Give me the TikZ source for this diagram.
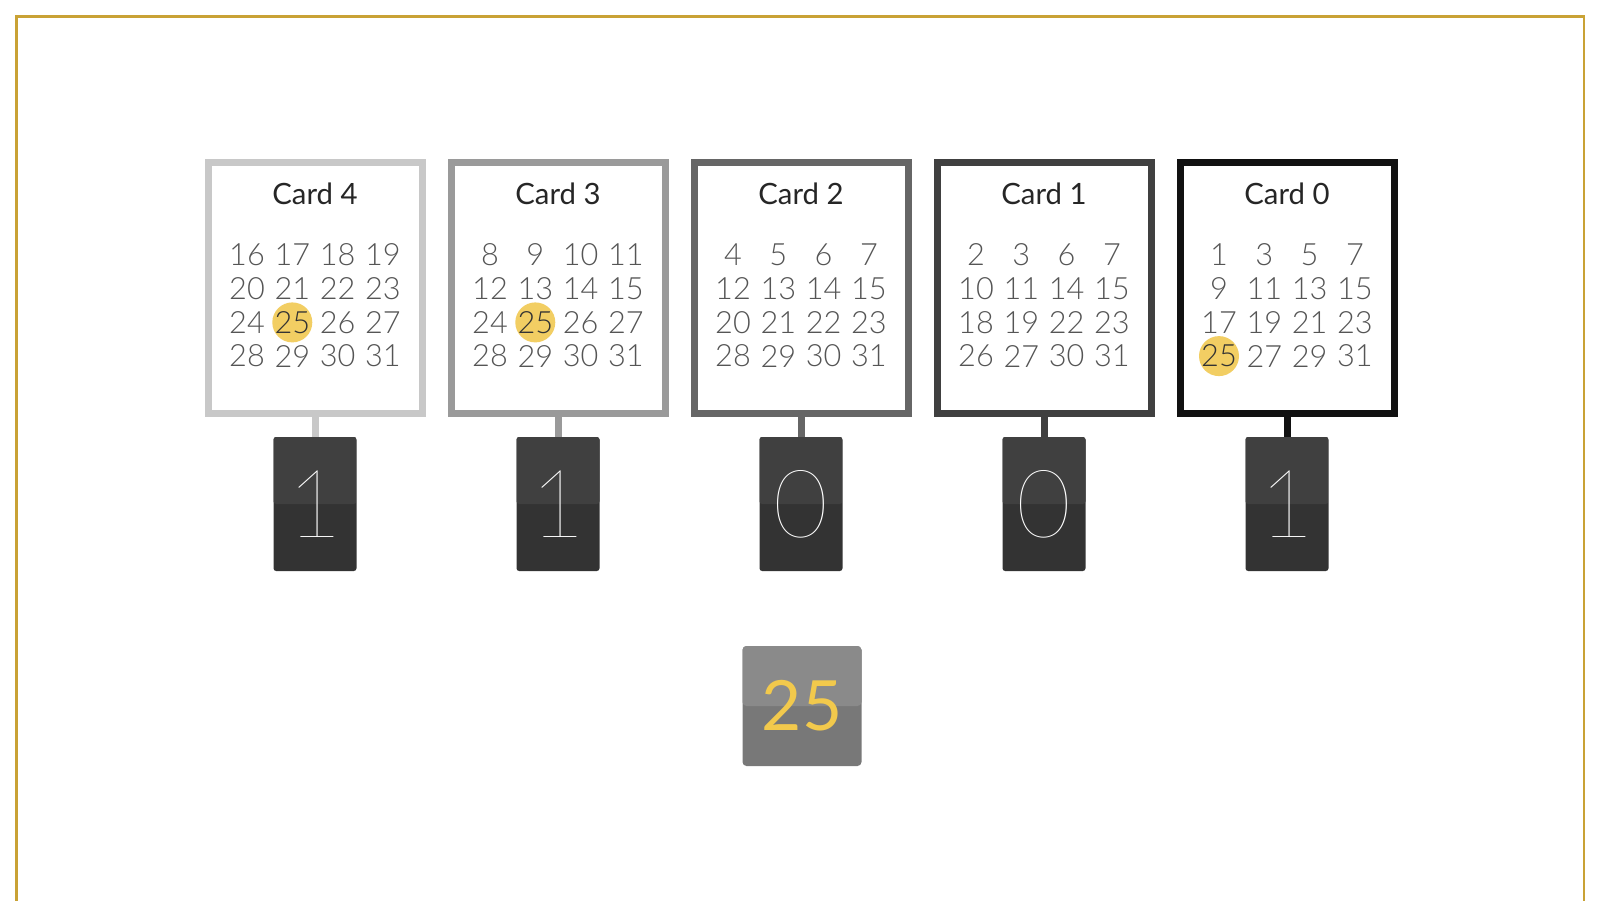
\documentclass[tikz,border=0pt]{standalone}
\usepackage{fontspec}
\setmainfont{Lato}
\IfFontExistsTF{Lato Light}{\newfontfamily\lightfont{Lato Light}}{\newfontfamily\lightfont{Lato}}
\IfFontExistsTF{Lato Thin}{\newfontfamily\thinfont{Lato Thin}}{%
  \IfFontExistsTF{Lato Hairline}{\newfontfamily\thinfont[FakeBold=1.2]{Lato Hairline}}{\let\thinfont\lightfont}}
\definecolor{cfour}{HTML}{C8C8C8}
\definecolor{cthree}{HTML}{9A9A9A}
\definecolor{ctwo}{HTML}{666666}
\definecolor{cone}{HTML}{404040}
\definecolor{czero}{HTML}{111111}
\definecolor{gold}{HTML}{C9A235}
\definecolor{hlyellow}{HTML}{F2CE63}
\definecolor{numgray}{HTML}{555555}
\definecolor{tiletop}{HTML}{404040}
\definecolor{tilebot}{HTML}{333333}
\definecolor{restop}{HTML}{8A8A8A}
\definecolor{resbot}{HTML}{787878}
\definecolor{resyellow}{HTML}{F2C94C}
\pgfdeclarelayer{background}
\pgfsetlayers{background,main}
\tikzset{
  cardbox/.style={draw, line width=5.25pt, minimum width=160.5pt, minimum height=188.25pt, inner sep=0pt},
  cardtitle/.style={inner sep=0pt, text=black!85, font=\fontsize{22}{22}\selectfont},
  num/.style={inner sep=0pt, text=numgray, font=\lightfont\fontsize{23}{23}\selectfont},
  stem/.style={line width=5.25pt},
  tile/.style={inner sep=0pt, minimum width=62.25pt, minimum height=100.5pt, rounded corners=2pt,
    fill=tilebot, text=white, font=\thinfont\fontsize{71}{71}\selectfont,
    path picture={\fill[tiletop] (path picture bounding box.north west) rectangle (path picture bounding box.east);}},
  restile/.style={inner sep=0pt, minimum width=89.25pt, minimum height=90pt, rounded corners=3pt,
    fill=resbot, text=resyellow, font=\fontsize{52}{52}\selectfont,
    path picture={\fill[restop] (path picture bounding box.north west) rectangle (path picture bounding box.east);}},
  hl/.style={fill=hlyellow},
  frame/.style={draw=gold, line width=1.8pt}
}
\newcommand\cardrow[4]{% id, cx, row, numbers
  \foreach \v [count=\c] in {#4} {
    \node[num] (n#1-#3-\c) at ({#2-68+(\c-1)*45.3}, {255+(#3-1)*33.7}) {\v};
  }
}
\newcommand\drawcard[8]{% id, cx, colour, bit, rows
  \node[cardbox, draw=#3] (c#1) at (#2,288) {};
  \node[cardtitle] (h#1) at (#2,194) {Card #1};
  \cardrow{#1}{#2}{1}{#5}
  \cardrow{#1}{#2}{2}{#6}
  \cardrow{#1}{#2}{3}{#7}
  \cardrow{#1}{#2}{4}{#8}
  \node[tile] (t#1) at (#2,504) {#4};
  \draw[stem, draw=#3] (c#1.south) -- (t#1.north);
}
\begin{document}
\begin{tikzpicture}[x=0.75pt, y=-0.75pt]
\useasboundingbox (0,0) rectangle (1600,900);
\draw[frame] (16.5,905) -- (16.5,16.5) -- (1584,16.5) -- (1584,905);

\drawcard{4}{315}{cfour}{1}{16,17,18,19}{20,21,22,23}{24,{\color{black!80}25},26,27}{28,29,30,31}
\drawcard{3}{558}{cthree}{1}{8,9,10,11}{12,13,14,15}{24,{\color{black!80}25},26,27}{28,29,30,31}
\drawcard{2}{801}{ctwo}{0}{4,5,6,7}{12,13,14,15}{20,21,22,23}{28,29,30,31}
\drawcard{1}{1044}{cone}{0}{2,3,6,7}{10,11,14,15}{18,19,22,23}{26,27,30,31}
\drawcard{0}{1287}{czero}{1}{1,3,5,7}{9,11,13,15}{17,19,21,23}{{\color{black!80}25},27,29,31}

\begin{pgfonlayer}{background}
\fill[white] (0,0) rectangle (1600,900);
\fill[hl] (n4-3-2.center) circle[radius=20];
\fill[hl] (n3-3-2.center) circle[radius=20];
\fill[hl] (n0-4-1.center) circle[radius=20];
\end{pgfonlayer}

\node[restile] (r) at (802,706) {25};
\end{tikzpicture}
\end{document}
